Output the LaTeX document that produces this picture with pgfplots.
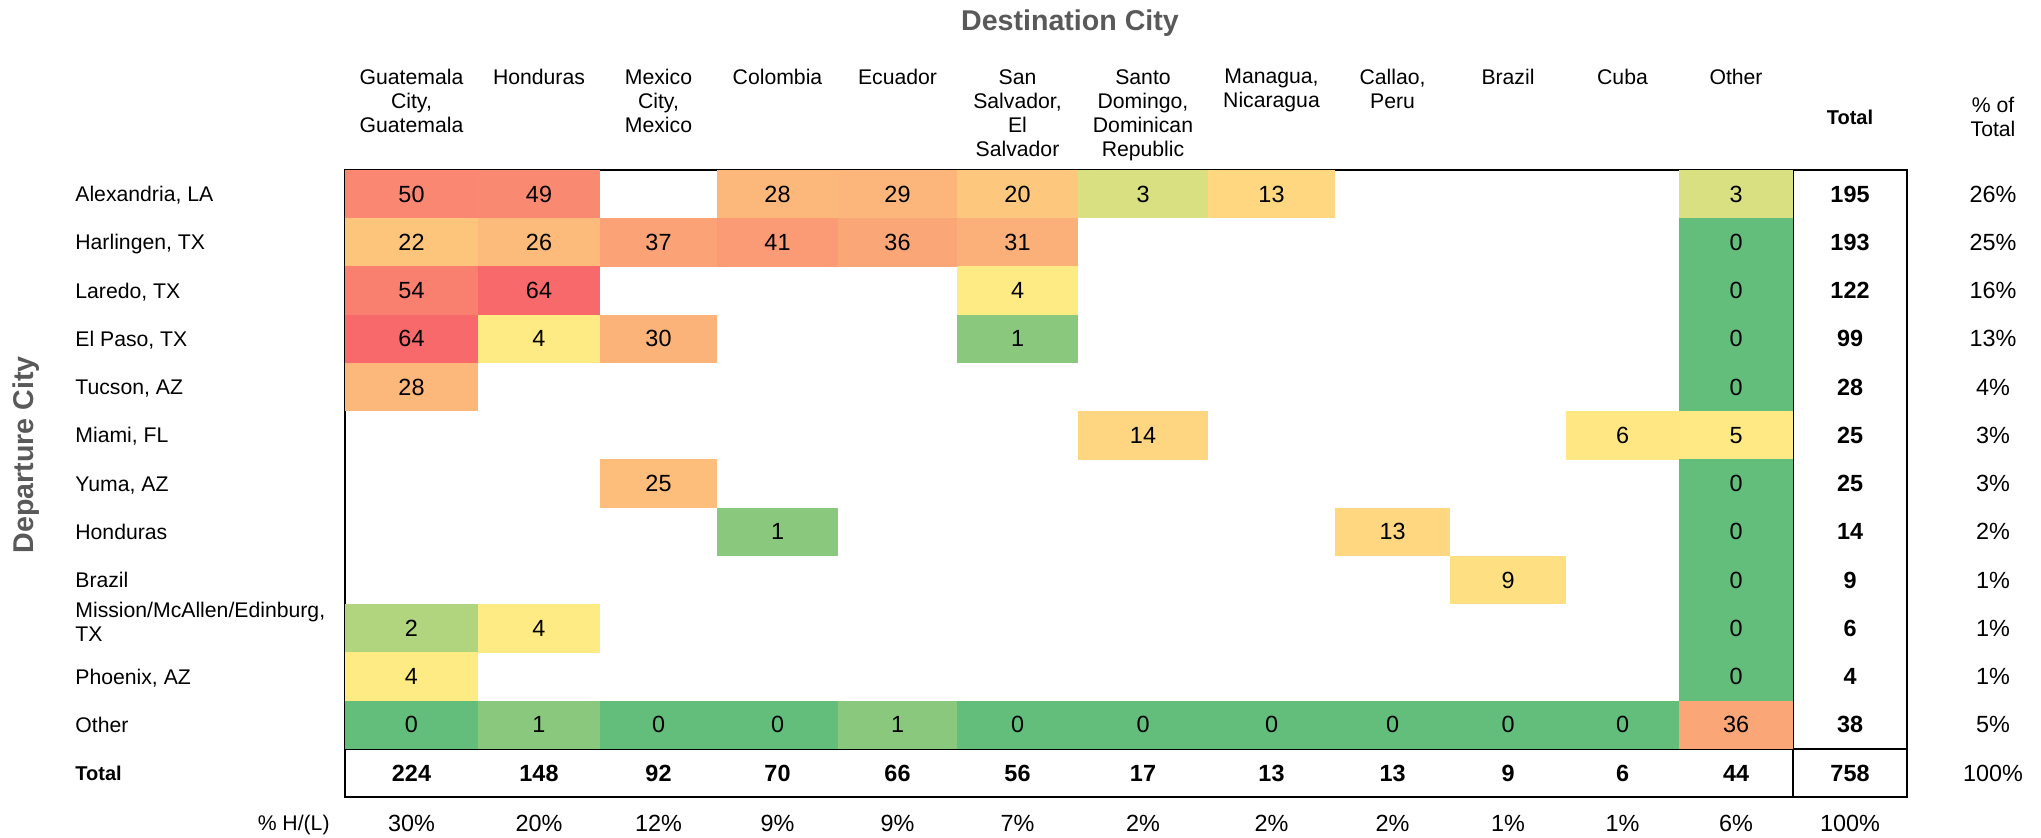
\documentclass[border=0pt]{standalone}
\usepackage{fontspec}
\setmainfont{Liberation Sans}
\usepackage{pgfplots}
\usepackage{pgfplotstable}
\pgfplotsset{compat=1.18}
\definecolor{axgray}{RGB}{89,89,89}
\newcommand{\numfont}{\fontsize{11.7}{13}\selectfont}

% one heat-map cell: width taken from the data (1 unit = 0.5pt), fixed row height
\pgfdeclareplotmark{cell}{%
  \pgfpathrectangle{\pgfpoint{-0.25pt*\cw-0.05pt}{-12.11pt}}{\pgfpoint{0.5pt*\cw+0.1pt}{24.22pt}}%
  \pgfusepathqfill}

% cells: x centre, y centre, width, value
\pgfplotstableread{
x y w v
411.5 194.125 133 50
539 194.125 122 49
777.5 194.125 121 28
897.5 194.125 119 29
1017.5 194.125 121 20
1143 194.125 130 3
1271.5 194.125 127 13
1736 194.125 114 3
411.5 242.375 133 22
539 242.375 122 26
658.5 242.375 117 37
777.5 242.375 121 41
897.5 242.375 119 36
1017.5 242.375 121 31
1736 242.375 114 0
411.5 290.625 133 54
539 290.625 122 64
1017.5 290.625 121 4
1736 290.625 114 0
411.5 338.875 133 64
539 338.875 122 4
658.5 338.875 117 30
1017.5 338.875 121 1
1736 338.875 114 0
411.5 387.125 133 28
1736 387.125 114 0
1143 435.375 130 14
1622.5 435.375 113 6
1736 435.375 114 5
658.5 483.625 117 25
1736 483.625 114 0
777.5 531.875 121 1
1392.5 531.875 115 13
1736 531.875 114 0
1508 580.125 116 9
1736 580.125 114 0
411.5 628.375 133 2
539 628.375 122 4
1736 628.375 114 0
411.5 676.625 133 4
1736 676.625 114 0
411.5 724.875 133 0
539 724.875 122 1
658.5 724.875 117 0
777.5 724.875 121 0
897.5 724.875 119 1
1017.5 724.875 121 0
1143 724.875 130 0
1271.5 724.875 127 0
1392.5 724.875 115 0
1508 724.875 116 0
1622.5 724.875 113 0
1736 724.875 114 36
}\cells

% row totals and share of total
\pgfplotstableread{
y t p
194.125 195 26
242.375 193 25
290.625 122 16
338.875 99 13
387.125 28 4
435.375 25 3
483.625 25 3
531.875 14 2
580.125 9 1
628.375 6 1
676.625 4 1
724.875 38 5
773 758 100
}\rowtot

% column totals and % H/(L)
\pgfplotstableread{
x t p
411.5 224 30
539 148 20
658.5 92 12
777.5 70 9
897.5 66 9
1017.5 56 7
1143 17 2
1271.5 13 2
1392.5 13 2
1508 9 1
1622.5 6 1
1736 44 6
}\coltot

\begin{document}
\begin{tikzpicture}[font=\fontsize{10.6}{12}\selectfont]
\begin{axis}[
  x=0.5pt, y=0.5pt,
  xmin=0, xmax=2041, ymin=0, ymax=838,
  y dir=reverse,
  hide axis,
  clip=false,
  colormap={heat}{rgb255(0pt)=(99,190,123) rgb255(4pt)=(255,235,132) rgb255(64pt)=(248,105,107)},
  point meta min=0, point meta max=64,
]
\path (axis cs:0,0) rectangle (axis cs:2041,838);

% heat-map cells
\addplot[scatter, only marks, mark=cell, point meta=explicit,
  visualization depends on={\thisrow{w} \as \cw}]
  table[x=x, y=y, meta=v] {\cells};

% cell values
\addplot[only marks, mark=none, nodes near coords, point meta=explicit symbolic,
  nodes near coords align={center},
  every node near coord/.append style={anchor=center, inner sep=0pt, text=black, font=\numfont}]
  table[x=x, y=y, meta=v] {\cells};

% row totals (bold)
\addplot[only marks, mark=none, nodes near coords, point meta=explicit symbolic,
  nodes near coords align={center},
  every node near coord/.append style={anchor=center, inner sep=0pt, text=black, font=\numfont\bfseries}]
  table[x expr=1850, y=y, meta=t] {\rowtot};
% share of total
\addplot[only marks, mark=none, nodes near coords={\pgfplotspointmeta\%}, point meta=explicit symbolic,
  nodes near coords align={center},
  every node near coord/.append style={anchor=center, inner sep=0pt, text=black, font=\numfont}]
  table[x expr=1993, y=y, meta=p] {\rowtot};

% column totals (bold)
\addplot[only marks, mark=none, nodes near coords, point meta=explicit symbolic,
  nodes near coords align={center},
  every node near coord/.append style={anchor=center, inner sep=0pt, text=black, font=\numfont\bfseries}]
  table[x=x, y expr=773, meta=t] {\coltot};
% % H/(L)
\addplot[only marks, mark=none, nodes near coords={\pgfplotspointmeta\%}, point meta=explicit symbolic,
  nodes near coords align={center},
  every node near coord/.append style={anchor=center, inner sep=0pt, text=black, font=\numfont}]
  table[x=x, y expr=823, meta=p] {\coltot};
\node[anchor=center, inner sep=0pt, font=\numfont] at (axis cs:1850,823) {100\%};

% table borders
\draw[line width=1pt] (axis cs:345,170) rectangle (axis cs:1907,797);
\draw[line width=1pt] (axis cs:345,749) -- (axis cs:1907,749);
\draw[line width=0.75pt] (axis cs:1793,170) -- (axis cs:1793,797);

% titles
\node[anchor=base, inner sep=0pt, text=axgray, font=\fontsize{14.3}{16}\selectfont\bfseries]
  at (axis cs:1070,30.2) {Destination City};
\node[anchor=base, rotate=90, inner sep=0pt, text=axgray, font=\fontsize{14.3}{16}\selectfont\bfseries]
  at (axis cs:33,455) {Departure City};

% column headers
\begin{scope}[every node/.style={anchor=north, align=center, inner sep=0pt}]
\node at (axis cs:411.5,69) {Guatemala\\City,\\Guatemala};
\node at (axis cs:539,69) {Honduras};
\node at (axis cs:658.5,69) {Mexico\\City,\\Mexico};
\node at (axis cs:777.5,69) {Colombia};
\node at (axis cs:897.5,69) {Ecuador};
\node at (axis cs:1017.5,69) {San\\Salvador,\\El\\Salvador};
\node at (axis cs:1143,69) {Santo\\Domingo,\\Dominican\\Republic};
\node at (axis cs:1271.5,69) {Managua,\\Nicaragua};
\node at (axis cs:1392.5,69) {Callao,\\Peru};
\node at (axis cs:1508,69) {Brazil};
\node at (axis cs:1622.5,69) {Cuba};
\node at (axis cs:1736,69) {Other};
\end{scope}
\node[anchor=center, inner sep=0pt, font=\bfseries] at (axis cs:1850,117) {Total};
\node[anchor=center, align=center, inner sep=0pt] at (axis cs:1993,117) {\% of\\Total};

% row labels
\begin{scope}[every node/.style={anchor=base west, inner sep=0pt}]
\node at (axis cs:75,201.7) {Alexandria, LA};
\node at (axis cs:75,250.0) {Harlingen, TX};
\node at (axis cs:75,298.2) {Laredo, TX};
\node at (axis cs:75,346.5) {El Paso, TX};
\node at (axis cs:75,394.7) {Tucson, AZ};
\node at (axis cs:75,443.0) {Miami, FL};
\node at (axis cs:75,491.2) {Yuma, AZ};
\node at (axis cs:75,539.5) {Honduras};
\node at (axis cs:75,587.7) {Brazil};
\node at (axis cs:75,684.2) {Phoenix, AZ};
\node at (axis cs:75,732.5) {Other};
\node[font=\bfseries] at (axis cs:75,780.6) {Total};
\end{scope}
\node[anchor=north west, align=left, inner sep=0pt] at (axis cs:75,602) {Mission/McAllen/Edinburg,\\TX};
\node[anchor=base east, inner sep=0pt] at (axis cs:330,830.6) {\% H/(L)};
\end{axis}
\end{tikzpicture}
\end{document}
